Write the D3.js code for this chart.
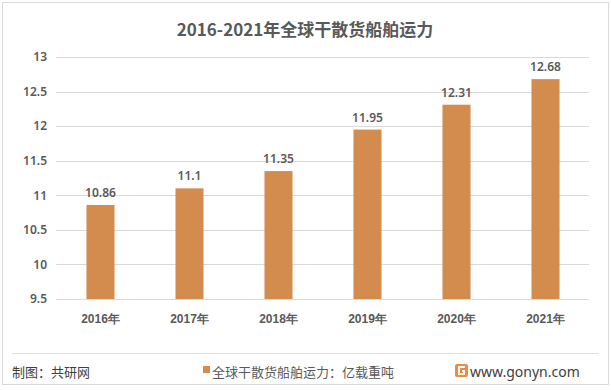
<!DOCTYPE html>
<html><head><meta charset="utf-8">
<script src="https://cdn.jsdelivr.net/npm/d3@7"></script>
<style>body{margin:0;background:#fff;}svg{display:block;font-family:"Noto Sans CJK SC","Noto Sans",sans-serif;}</style>
</head><body><svg id="c" width="611" height="390"></svg>
<script>
const categories = ["2016年","2017年","2018年","2019年","2020年","2021年"];
const values = [10.86, 11.1, 11.35, 11.95, 12.31, 12.68];
const valueLabels = ["10.86","11.1","11.35","11.95","12.31","12.68"];
const yTicks = [9.5, 10, 10.5, 11, 11.5, 12, 12.5, 13];
const title = "2016-2021年全球干散货船舶运力";
const legendLabel = "全球干散货船舶运力：亿载重吨";
const source = "制图：共研网";
const site = "www.gonyn.com";

const svg = d3.select("#c");
const color = "#D38B4E";
const textColor = "#595959";

svg.append("rect").attr("x",2.5).attr("y",2.5).attr("width",606).attr("height",382)
  .attr("fill","#fff").attr("stroke","#d9d9d9").attr("stroke-width",1);

svg.append("text").attr("x",305).attr("y",36).attr("text-anchor","middle")
  .attr("font-size",17).attr("font-weight","bold").attr("fill",textColor).text(title);

const x = d3.scaleBand().domain(categories).range([56,590]).paddingInner(0.685).paddingOuter(0.3425);
const y = d3.scaleLinear().domain([9.5,13]).range([299,57]);

const grid = svg.append("g");
grid.selectAll("line").data(yTicks).join("line")
  .attr("x1",56).attr("x2",589).attr("y1",d=>Math.round(y(d))+0.5).attr("y2",d=>Math.round(y(d))+0.5)
  .attr("stroke","#d9d9d9").attr("stroke-width",1);

const yAxis = svg.append("g").attr("transform","translate(47,0)")
  .call(d3.axisLeft(y).tickValues(yTicks).tickSize(0).tickPadding(0).tickFormat(d=>String(d)));
yAxis.select(".domain").remove();
yAxis.selectAll("text").attr("font-size",12).attr("font-weight","600").attr("fill",textColor).attr("font-family","'Noto Sans',sans-serif");

svg.selectAll(".bar").data(values).join("rect").attr("class","bar")
  .attr("x",(d,i)=>x(categories[i])).attr("width",x.bandwidth())
  .attr("y",d=>y(d)).attr("height",d=>y(9.5)-y(d)).attr("fill",color);

svg.selectAll(".vl").data(values).join("text").attr("class","vl")
  .attr("x",(d,i)=>x(categories[i])+x.bandwidth()/2).attr("y",d=>y(d)-8)
  .attr("text-anchor","middle").attr("font-size",12).attr("font-weight","600").attr("fill",textColor)
  .attr("font-family","'Noto Sans',sans-serif")
  .text((d,i)=>valueLabels[i]);

const xAxis = svg.append("g").attr("transform","translate(0,300)")
  .call(d3.axisBottom(x).tickSize(0).tickPadding(14));
xAxis.select(".domain").remove();
xAxis.selectAll("text").attr("font-size",12).attr("font-weight","bold").attr("fill",textColor);

svg.append("line").attr("x1",12).attr("x2",599).attr("y1",353.5).attr("y2",353.5)
  .attr("stroke","#e0e0e0").attr("stroke-width",1);

svg.append("text").attr("x",12).attr("y",377).attr("font-size",13).attr("fill","#404040").text(source);
svg.append("rect").attr("x",203).attr("y",366).attr("width",7).attr("height",7).attr("fill",color);
svg.append("text").attr("x",212).attr("y",377).attr("font-size",13).attr("fill",textColor).text(legendLabel);

// logo
const lg = svg.append("g").attr("transform","translate(455,364)");
lg.append("rect").attr("width",13).attr("height",13).attr("rx",2).attr("fill","#F28A3C");
lg.append("path").attr("d","M10,3 H4 V10 H9 V7 H7").attr("fill","none").attr("stroke","#fff").attr("stroke-width",2);
svg.append("text").attr("x",470).attr("y",377).attr("font-size",14).attr("fill","#404040")
  .attr("font-family","'Noto Sans',sans-serif").text(site);
</script></body></html>
